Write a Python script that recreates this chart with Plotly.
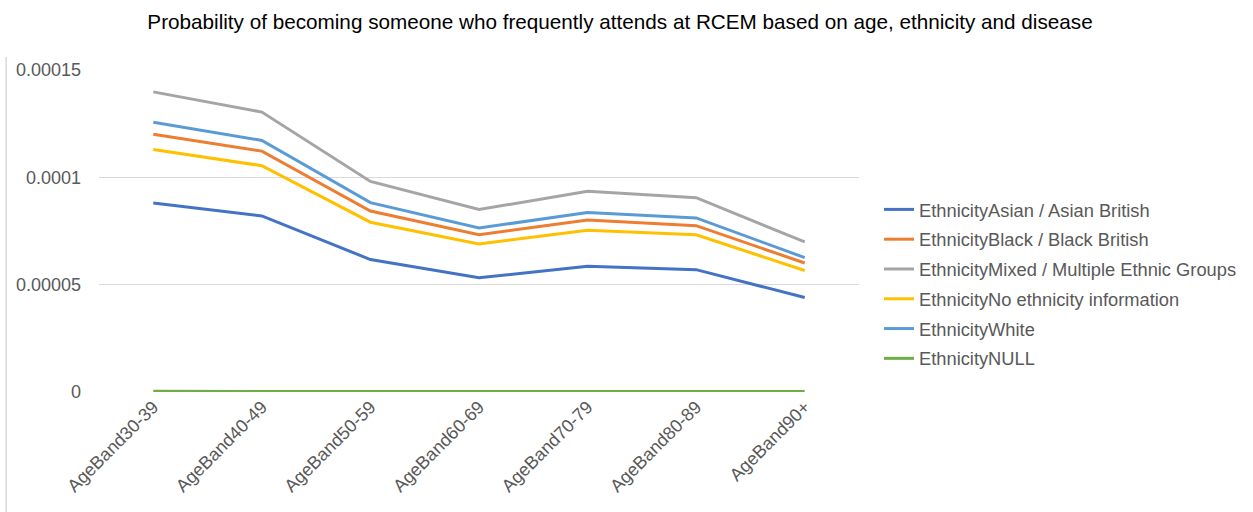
import plotly.graph_objects as go

age_bands = ["AgeBand30-39", "AgeBand40-49", "AgeBand50-59", "AgeBand60-69",
             "AgeBand70-79", "AgeBand80-89", "AgeBand90+"]

asian = [8.80e-5, 8.20e-5, 6.17e-5, 5.32e-5, 5.86e-5, 5.70e-5, 4.40e-5]
black = [1.201e-4, 1.122e-4, 8.43e-5, 7.33e-5, 8.01e-5, 7.75e-5, 6.01e-5]
mixed = [1.398e-4, 1.304e-4, 9.81e-5, 8.50e-5, 9.35e-5, 9.05e-5, 6.99e-5]
no_info = [1.130e-4, 1.054e-4, 7.91e-5, 6.90e-5, 7.53e-5, 7.32e-5, 5.66e-5]
white = [1.257e-4, 1.172e-4, 8.82e-5, 7.64e-5, 8.36e-5, 8.11e-5, 6.26e-5]
null = [3e-7, 3e-7, 3e-7, 3e-7, 3e-7, 3e-7, 2e-7]

series_names = ["EthnicityAsian / Asian British", "EthnicityBlack / Black British",
                "EthnicityMixed / Multiple Ethnic Groups", "EthnicityNo ethnicity information",
                "EthnicityWhite", "EthnicityNULL"]
series_values = [asian, black, mixed, no_info, white, null]
series_colors = ["#4472C4", "#ED7D31", "#A5A5A5", "#FFC000", "#5B9BD5", "#70AD47"]

y_ticks = [0, 0.00005, 0.0001, 0.00015]
y_tick_labels = ["0", "0.00005", "0.0001", "0.00015"]

fig = go.Figure()
for i, (name, vals, col) in enumerate(zip(series_names, series_values, series_colors)):
    fig.add_trace(go.Scatter(
        x=age_bands, y=vals, name=name, mode="lines",
        line=dict(color=col, width=3),
        legendgroup=f"g{i}",
    ))

fig.update_layout(
    width=1253, height=512,
    paper_bgcolor="white", plot_bgcolor="white",
    margin=dict(l=99, r=393, t=70, b=120),
    font=dict(family="Liberation Sans, Arial, sans-serif", color="#595959", size=18),
    title=dict(
        text="Probability of becoming someone who frequently attends at RCEM based on age, ethnicity and disease",
        x=620 / 1253, xanchor="center", y=1 - 22 / 512, yanchor="middle",
        font=dict(size=20.7, color="#000000"),
    ),
    showlegend=True,
    legend=dict(
        x=1.025, xanchor="left", y=(392 - 284) / 322, yanchor="middle",
        font=dict(size=18.3, color="#595959"),
        tracegroupgap=3, traceorder="grouped",
        itemwidth=30, bgcolor="rgba(0,0,0,0)",
    ),
    xaxis=dict(
        type="category", showgrid=False, showline=False, zeroline=False,
        tickangle=-45, tickfont=dict(size=18, color="#595959"),
        ticks="", range=[-0.5, 6.5],
    ),
    yaxis=dict(
        range=[0, 0.00015], tickvals=y_ticks, ticktext=y_tick_labels,
        showgrid=True, gridcolor="#D9D9D9", gridwidth=1,
        zeroline=False, showline=False, ticks="",
        ticklabelstandoff=17, tickfont=dict(size=18, color="#595959"),
    ),
    shapes=[dict(
        type="line", xref="paper", yref="paper",
        x0=(6 - 99) / 761, x1=(6 - 99) / 761, y0=(392 - 57) / 322, y1=-120 / 322,
        line=dict(color="#D9D9D9", width=1.5),
    )],
)

fig.write_html("out.html")
